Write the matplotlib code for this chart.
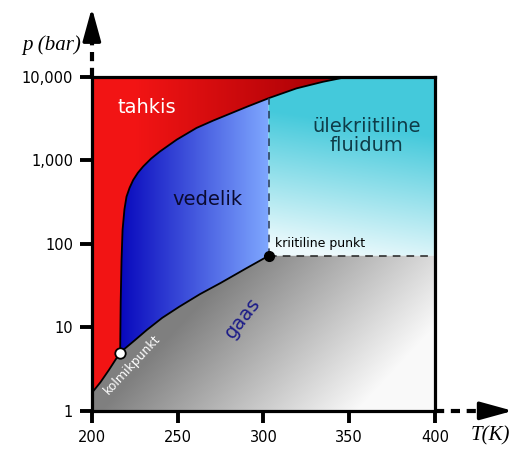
import numpy as np
import matplotlib.pyplot as plt
from matplotlib.patches import Polygon

# phase boundaries (T in K, p in bar)
sub_T = [200, 205, 210, 216.5]
sub_p = [1.64, 2.2, 3.1, 5.0]

melt_T = [216.5, 216.8, 217.3, 217.9, 219, 220.2, 222, 224.1, 226.8, 229.9, 234.5, 239.7, 249.4,
          261, 270.7, 290.2, 303.8, 319.3, 334.8, 346.5, 349]
melt_p = [5.0, 20, 64, 147, 260, 368, 470, 583, 710, 846, 1050, 1280, 1770,
          2450, 3000, 4380, 5640, 7300, 8760, 9800, 10000]

vap_T = [216.5, 225, 232, 241, 251, 263, 275, 290, 303]
vap_p = [5.0, 7.0, 9.3, 13, 17.7, 25, 34, 51, 72]

triple = (216.5, 5.0)
critical = (303, 72)

x_ticks = [200, 250, 300, 350, 400]
y_ticks = [1, 10, 100, 1000, 10000]
y_ticklabels = ['1', '10', '100', '1,000', '10,000']

# work in log10(p) so the gradients can be plain images
sT, sL = np.array(sub_T), np.log10(sub_p)
mT, mL = np.array(melt_T), np.log10(melt_p)
vT, vL = np.array(vap_T), np.log10(vap_p)
Tc, Lc = critical[0], np.log10(critical[1])
Ltop = 4.0

# melting curve height at Tc
Lm_c = np.interp(Tc, mT, mL)
left = mT < Tc

fig = plt.figure(figsize=(5.16, 4.5), dpi=100)
ax = fig.add_axes([0.178, 0.087, 0.665, 0.742])
ax.set_xlim(200, 400)
ax.set_ylim(0, 4)

TT, LL = np.meshgrid(np.linspace(200, 400, 400), np.linspace(0, 4, 400))


def blend(c0, c1, t):
    c0, c1 = np.array(c0), np.array(c1)
    return c0[None, None, :] * (1 - t[..., None]) + c1[None, None, :] * t[..., None]


def fill(img, verts):
    poly = Polygon(verts, closed=True, facecolor='none', edgecolor='none')
    ax.add_patch(poly)
    im = ax.imshow(img, origin='lower', extent=[200, 400, 0, 4], aspect='auto',
                   interpolation='bilinear', zorder=1)
    im.set_clip_path(poly)


# solid (red)
t = np.clip((TT - 225) / 115, 0, 1)
red = blend((0.95, 0.08, 0.08), (0.66, 0.0, 0.02), t)
fill(red, [(200, sL[0])] + list(zip(sT, sL)) + list(zip(mT, mL)) + [(200, Ltop)])

# liquid (blue)
t = np.clip((TT - 216) / (Tc - 216), 0, 1)
blue = blend((0.03, 0.03, 0.74), (0.50, 0.66, 1.0), t)
liq_verts = list(zip(mT[left], mL[left])) + [(Tc, Lm_c), (Tc, Lc)] + list(zip(vT[::-1], vL[::-1]))
fill(blue, liq_verts)

# supercritical (cyan)
t = np.clip((LL - 2.0) / 1.6 + (TT - 302) / 500, 0, 1)
cyan = blend((0.93, 0.98, 0.99), (0.27, 0.79, 0.86), t)
sc_verts = [(Tc, Lc), (Tc, Lm_c)] + list(zip(mT[~left], mL[~left])) + [(400, Ltop), (400, Lc)]
fill(cyan, sc_verts)

# gas (grey)
g = 0.5 + 0.48 * np.clip((TT - 250) / 150 + (1.0 - LL) * 0.3, 0, 1)
grey = np.dstack([g, g, g])
gas_verts = [(200, 0), (200, sL[0])] + list(zip(sT, sL)) + list(zip(vT, vL)) + [(400, Lc), (400, 0)]
fill(grey, gas_verts)

# boundaries
ax.plot(sT, sL, color='k', lw=1.3, zorder=3)
ax.plot(mT, mL, color='k', lw=1.3, zorder=3)
ax.plot(vT, vL, color='k', lw=1.3, zorder=3)
ax.plot([Tc, Tc], [Lc, Lm_c], color='#223355', lw=1.1, ls=(0, (5, 4)), zorder=3)
ax.plot([Tc, 400], [Lc, Lc], color='#222222', lw=1.1, ls=(0, (5, 4)), zorder=3)

ax.plot(triple[0], np.log10(triple[1]), 'o', ms=7.5, mfc='white', mec='k', mew=1.3, zorder=4)
ax.plot(Tc, Lc, 'o', ms=7, color='k', zorder=4)

# region labels
ax.text(232, 3.63, 'tahkis', color='white', fontsize=14, ha='center', va='center', zorder=5)
ax.text(267.5, 2.53, 'vedelik', color='#0a0a30', fontsize=14, ha='center', va='center', zorder=5)
ax.text(360, 3.29, 'ülekriitiline\nfluidum', color='#0e3c48', fontsize=14, ha='center', va='center',
        linespacing=1.0, zorder=5)
ax.text(307, 2.01, 'kriitiline punkt', color='k', fontsize=9, ha='left', va='center', zorder=5)
ax.text(288, 1.11, 'gaas', color='#1c1c88', fontsize=14, ha='center', va='center', rotation=52, zorder=5)
ax.text(223.3, 0.56, 'kolmikpunkt', color='white', fontsize=9, ha='center', va='center', rotation=47, zorder=5)

# axes styling
ax.set_xticks(x_ticks)
ax.set_yticks(np.log10(y_ticks))
ax.set_yticklabels(y_ticklabels)
for s in ax.spines.values():
    s.set_linewidth(2.3)
    s.set_zorder(6)
ax.tick_params(direction='out', length=8.5, width=2.8, labelsize=10.5, pad=5)

# dashed axis arrows
ax.plot([0, 0], [1.0, 1.13], transform=ax.transAxes, clip_on=False, color='k', lw=3,
        dashes=(2.2, 1.6))
ax.annotate('', xy=(0, 1.207), xytext=(0, 1.12), xycoords='axes fraction',
            arrowprops=dict(arrowstyle='-|>,head_length=2.0,head_width=0.55', color='k', lw=2.5,
                            shrinkA=0, shrinkB=0))
ax.plot([1.0, 1.15], [0, 0], transform=ax.transAxes, clip_on=False, color='k', lw=3,
        dashes=(2.2, 1.6))
ax.annotate('', xy=(1.227, 0), xytext=(1.14, 0), xycoords='axes fraction',
            arrowprops=dict(arrowstyle='-|>,head_length=2.0,head_width=0.55', color='k', lw=2.5,
                            shrinkA=0, shrinkB=0))

fig.text(52 / 516, 1 - 45 / 450, 'p (bar)', family='Liberation Serif', style='italic', fontsize=15,
         ha='center', va='center')
fig.text(490 / 516, 1 - 436 / 450, 'T(K)', family='Liberation Serif', style='italic', fontsize=15,
         ha='center', va='center')

fig.savefig('out.png', dpi=100)
